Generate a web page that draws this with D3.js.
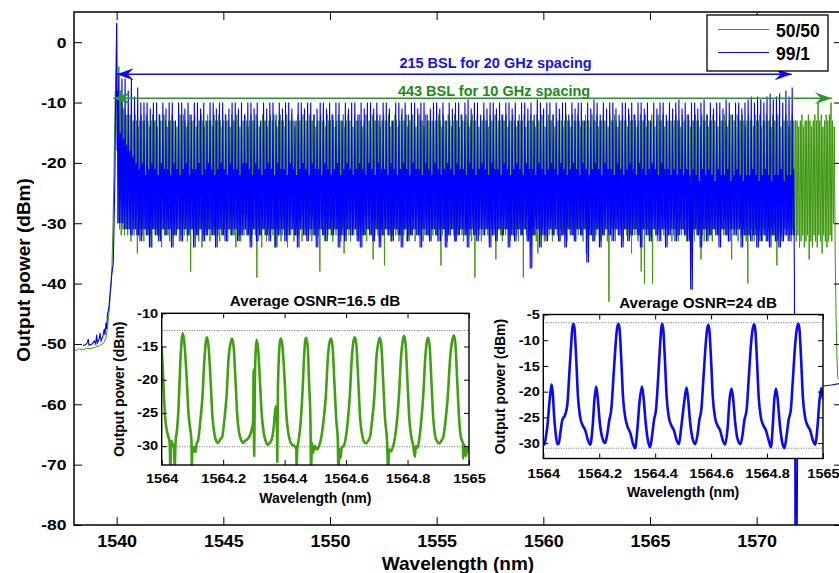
<!DOCTYPE html>
<html>
<head>
<meta charset="utf-8">
<script src="https://cdn.jsdelivr.net/npm/d3@7"></script>
<style>
  body { margin: 0; background: #fff; }
  svg { display: block; }
</style>
</head>
<body>
<div id="chart"></div>
<script>
// ---------------- data ----------------
const xTicks = [1540, 1545, 1550, 1555, 1560, 1565, 1570];
const yTicks = [0, -10, -20, -30, -40, -50, -60, -70, -80];
const seriesNames = ["50/50", "99/1"];

// 50/50 comb (443 lines, 10 GHz)
const greenStart = 1540.10, greenStep = 0.0757;
const greenHead = [[1538.0,-50.9],[1538.1,-51.1],[1538.25,-50.8],[1538.4,-51],[1538.6,-50.7],[1538.8,-50.8],[1539.0,-50.5],[1539.2,-50.3],[1539.4,-49.8],[1539.5,-49],[1539.58,-47],[1539.65,-44.5],[1539.72,-41],[1539.78,-37],[1539.83,-30],[1539.88,-20],[1539.93,-9],[1539.97,-4],[1540.0,3],[1540.03,-14],[1540.06,-25]];
const greenPeakDb = [
-4,-8,-10,-11,-12,-12,-13,-12,-13,-13,-12,-13,-14,-13,-12,-13,-13,-12,-13,-14,
-13,-12,-13,-13,-14,-12,-13,-13,-12,-13,-14,-13,-13,-12,-13,-13,-14,-13,-12,-13,
-12,-13,-14,-13,-12,-13,-13,-12,-14,-13,-13,-12,-13,-14,-13,-12,-13,-13,-14,-12,
-13,-13,-12,-13,-14,-13,-12,-13,-13,-14,-12,-13,-13,-12,-13,-14,-13,-13,-12,-13,
-14,-13,-12,-13,-13,-12,-13,-14,-13,-12,-13,-13,-14,-13,-12,-13,-12,-13,-14,-13,
-12,-13,-13,-14,-12,-13,-13,-12,-13,-14,-13,-12,-13,-13,-12,-14,-13,-13,-12,-13,
-13,-12,-14,-13,-13,-12,-13,-13,-14,-12,-13,-13,-12,-13,-14,-13,-12,-13,-13,-12,
-14,-13,-12,-13,-13,-14,-12,-13,-13,-12,-13,-14,-13,-12,-13,-13,-14,-12,-13,-13,
-12,-13,-14,-13,-12,-13,-13,-12,-14,-13,-13,-12,-13,-14,-13,-12,-13,-13,-12,-14,
-13,-13,-12,-13,-14,-13,-12,-13,-13,-14,-12,-13,-13,-12,-13,-14,-13,-13,-12,-13,
-14,-12,-13,-13,-12,-13,-14,-13,-12,-13,-13,-14,-12,-13,-13,-12,-13,-14,-13,-12,
-13,-13,-12,-14,-13,-13,-12,-13,-13,-14,-12,-13,-13,-12,-14,-13,-13,-12,-13,-13,
-12,-14,-13,-13,-12,-13,-14,-13,-12,-13,-13,-12,-14,-13,-13,-12,-13,-13,-14,-12,
-13,-13,-12,-13,-14,-13,-12,-13,-13,-12,-14,-13,-13,-12,-13,-14,-13,-12,-13,-13,
-14,-12,-13,-13,-12,-13,-14,-13,-13,-12,-13,-13,-14,-12,-13,-13,-12,-14,-13,-13,
-12,-13,-13,-14,-12,-13,-13,-12,-13,-14,-13,-13,-12,-13,-13,-14,-12,-13,-13,-12,
-13,-14,-13,-12,-13,-13,-12,-14,-13,-13,-12,-13,-14,-13,-12,-13,-13,-12,-14,-13,
-13,-12,-13,-14,-13,-12,-13,-13,-14,-12,-13,-13,-12,-13,-14,-13,-13,-12,-13,-13,
-14,-12,-13,-13,-12,-14,-13,-13,-12,-13,-13,-14,-12,-13,-13,-12,-13,-14,-13,-12,
-13,-13,-14,-12,-13,-13,-12,-13,-14,-13,-12,-13,-13,-14,-12,-13,-13,-12,-14,-13,
-13,-12,-13,-13,-14,-12,-13,-13,-12,-13,-14,-13,-13,-12,-13,-14,-13,-12,-13,-13,
-13,-14,-13,-12,-14,-13,-13,-12,-13,-14,-13,-12,-13,-10,-13,-12,-14,-13,-12,-13,
-12,-10,-13];
const greenFloorDb = [
-30,-31,-32,-31,-32,-31,-32,-31,-33,-31,-32,-31,-35,-32,-31,-32,-33,-31,-32,-31,
-32,-34,-31,-32,-31,-33,-32,-34,-31,-32,-31,-32,-33,-31,-32,-31,-32,-31,-33,-32,
-31,-32,-31,-33,-32,-38,-31,-32,-31,-32,-33,-31,-34,-32,-31,-32,-31,-33,-32,-31,
-32,-31,-32,-33,-31,-32,-31,-32,-33,-31,-32,-31,-32,-34,-31,-32,-33,-31,-32,-31,
-32,-31,-33,-32,-31,-32,-39,-31,-32,-34,-31,-32,-33,-31,-32,-31,-32,-34,-31,-32,
-31,-33,-32,-31,-32,-34,-31,-32,-31,-33,-32,-31,-32,-31,-33,-32,-31,-32,-31,-32,
-33,-31,-32,-31,-32,-38,-31,-32,-33,-31,-32,-31,-32,-33,-31,-32,-31,-32,-33,-31,
-35,-32,-31,-32,-33,-31,-32,-31,-32,-33,-31,-32,-31,-32,-33,-31,-32,-31,-36,-32,
-31,-32,-33,-31,-32,-37,-31,-32,-31,-33,-32,-31,-32,-31,-33,-32,-31,-32,-31,-33,
-32,-31,-32,-31,-33,-32,-31,-32,-31,-33,-32,-31,-32,-33,-31,-32,-31,-32,-33,-31,
-37,-32,-31,-32,-33,-31,-32,-31,-32,-33,-31,-32,-31,-32,-33,-31,-32,-31,-32,-33,
-31,-39,-32,-31,-32,-33,-31,-32,-31,-32,-33,-31,-32,-31,-36,-32,-31,-32,-33,-31,
-32,-31,-32,-33,-31,-32,-31,-32,-33,-31,-32,-39,-31,-32,-33,-31,-32,-31,-32,-33,
-35,-31,-32,-31,-33,-32,-31,-32,-31,-33,-32,-31,-32,-33,-31,-32,-31,-32,-33,-31,
-32,-31,-32,-33,-31,-32,-31,-32,-33,-31,-35,-32,-31,-32,-33,-31,-32,-31,-32,-33,
-31,-32,-31,-33,-43,-32,-31,-32,-33,-31,-32,-31,-32,-33,-31,-32,-31,-32,-35,-31,
-32,-31,-33,-32,-38,-31,-40,-32,-31,-33,-32,-40,-31,-32,-33,-31,-32,-31,-32,-33,
-31,-32,-31,-33,-32,-31,-32,-33,-31,-32,-31,-32,-33,-31,-32,-31,-32,-33,-31,-32,
-31,-36,-32,-33,-31,-32,-31,-32,-33,-31,-32,-31,-32,-33,-31,-32,-31,-32,-33,-31,
-36,-32,-31,-32,-33,-31,-32,-31,-32,-33,-40,-32,-31,-32,-33,-31,-32,-31,-32,-33,
-31,-32,-33,-31,-32,-31,-32,-33,-37,-32,-31,-32,-33,-31,-32,-31,-32,-33,-31,-32,
-33,-32,-34,-33,-32,-34,-33,-32,-36,-33,-34,-32,-33,-34,-32,-33,-35,-32,-33,-34,
-33,-32,-33];
const greenTail = [[1573.6,-30],[1573.64,-14],[1573.68,-35],[1573.72,-45],[1573.76,-52],[1573.8,-55.5],[1573.9,-56],[1574.0,-56]];

// 99/1 comb (215 lines, 20 GHz)
const blueStart = 1540.10, blueStep = 0.1475;
const blueHead = [[1538.42,-50.3],[1538.55,-50.1],[1538.62,-49.8],[1538.67,-49.2],[1538.7,-50.2],[1538.85,-50],[1538.95,-49.5],[1539.02,-50],[1539.06,-48.5],[1539.1,-49.8],[1539.18,-49.2],[1539.22,-48.2],[1539.27,-49.5],[1539.35,-48.8],[1539.42,-47.5],[1539.45,-48.5],[1539.5,-46.5],[1539.53,-47.5],[1539.57,-45],[1539.61,-44.4],[1539.65,-43.5],[1539.69,-41.6],[1539.74,-40],[1539.77,-38.5],[1539.84,-36.7],[1539.88,-30],[1539.92,-22],[1539.95,-10],[1539.98,-6],[1540.0,3.2],[1540.02,-18],[1540.04,-8],[1540.06,-24]];
const bluePeakDb = [
-5.5,-6,-6,-8,-6,-9,-7.5,-10,-10,-10,-11,-10,-10,-12,-10,-11,-10,-10,-13,-10,
-10,-11,-10,-12,-10,-10,-11,-10,-13,-10,-10,-11,-10,-10,-12,-11,-10,-10,-11,-10,
-12,-10,-10,-11,-10,-13,-10,-11,-10,-10,-12,-10,-11,-10,-10,-11,-13,-10,-10,-11,
-10,-10,-12,-11,-10,-10,-11,-10,-12,-10,-10,-13,-10,-11,-10,-10,-12,-10,-11,-10,
-10,-11,-10,-12,-10,-10,-11,-13,-10,-10,-11,-10,-12,-10,-10,-11,-10,-10,-12,-11,
-10,-10,-11,-10,-13,-10,-11,-10,-10,-12,-10,-9.5,-11,-10,-10,-12,-10,-11,-10,-10,
-11,-10,-12,-10,-10,-11,-10,-13,-10,-10,-11,-10,-12,-9.5,-10,-11,-10,-10,-12,-10,
-11,-10,-10,-12,-10,-11,-10,-10,-13,-10,-11,-9.5,-10,-12,-10,-11,-10,-10,-11,-12,
-10,-10,-11,-10,-12,-10,-10,-11,-10,-13,-10,-11,-10,-10,-12,-10,-11,-10,-9.5,-11,
-10,-12,-10,-10,-11,-10,-9.5,-12,-10,-11,-10,-10,-11,-9.5,-10,-12,-10,-10,-11,-10,
-9.5,-9,-10,-9,-9.5,-10,-9,-8.5,-9.5,-9,-8.5,-10,-8,-9,-7.5];
const blueSideDb = [
-15,-16,-17,-18,-19,-20,-21,-20,-22,-21,-20,-21,-22,-20,-21,-21,-22,-20,-21,-22,
-21,-20,-22,-21,-21,-20,-22,-21,-20,-21,-22,-21,-20,-21,-22,-20,-21,-21,-22,-20,
-20,-21,-22,-20,-21,-22,-21,-20,-21,-22,-20,-21,-21,-22,-20,-21,-22,-21,-20,-21,
-22,-20,-21,-21,-22,-20,-21,-22,-21,-20,-22,-21,-20,-21,-22,-21,-20,-21,-22,-20,
-21,-22,-20,-21,-21,-22,-20,-21,-22,-21,-20,-21,-22,-20,-21,-21,-22,-20,-21,-22,
-20,-21,-22,-21,-20,-21,-22,-20,-21,-21,-22,-20,-21,-22,-21,-20,-21,-22,-20,-21,
-21,-22,-20,-21,-22,-21,-20,-21,-22,-20,-21,-21,-22,-20,-21,-22,-21,-20,-21,-22,
-20,-21,-22,-21,-20,-21,-22,-20,-21,-22,-21,-20,-21,-22,-20,-21,-21,-22,-20,-21,
-22,-21,-20,-21,-22,-20,-21,-22,-21,-20,-21,-22,-20,-21,-21,-22,-21,-22,-21,-22,
-21,-22,-21,-22,-23,-21,-22,-21,-22,-23,-21,-22,-22,-21,-23,-22,-21,-22,-23,-22,
-22,-21,-22,-23,-22,-21,-22,-23,-22,-22,-21,-23,-22,-22,-21];
const blueFloorDb = [
-30,-30,-31,-31,-32,-31,-32,-33,-31,-32,-34,-31,-32,-33,-31,-32,-31,-34,-32,-31,
-33,-31,-32,-31,-34,-32,-31,-33,-32,-31,-32,-34,-31,-32,-33,-31,-32,-31,-33,-32,
-31,-32,-34,-31,-33,-32,-31,-32,-33,-31,-34,-32,-31,-33,-32,-31,-32,-34,-31,-32,
-33,-31,-32,-34,-31,-32,-33,-31,-32,-31,-34,-32,-33,-31,-32,-31,-33,-34,-32,-31,
-32,-33,-31,-34,-32,-31,-32,-33,-31,-32,-34,-31,-33,-32,-31,-32,-34,-31,-32,-33,
-31,-32,-33,-31,-34,-32,-31,-33,-32,-31,-32,-34,-31,-32,-33,-31,-32,-31,-34,-32,
-33,-31,-32,-31,-34,-32,-33,-31,-32,-31,-33,-37.5,-32,-31,-34,-32,-33,-31,-32,-31,
-33,-32,-34,-31,-32,-33,-31,-32,-31,-36.5,-32,-33,-31,-34,-32,-31,-32,-33,-31,-32,
-34,-31,-33,-32,-31,-32,-34,-31,-32,-33,-31,-32,-33,-31,-34,-32,-31,-33,-32,-31,
-32,-33,-41,-31,-32,-34,-31,-33,-32,-31,-32,-34,-31,-32,-33,-31,-32,-31,-34,-32,
-32,-33,-32,-34,-33,-32,-33,-34,-32,-33,-34,-33,-32,-33,-32];
const blueTail = [[1571.77,-40],[1571.79,-84],[1571.81,-84],[1571.84,-60],[1571.88,-84],[1571.90,-84],[1571.93,-58],[1572.1,-57],[1572.5,-57.2],[1573.0,-57],[1573.5,-56.8],[1574.0,-56.5]];

// inset (a): 50/50, 1564-1565 nm
const insetGreen = [
[1564.000,-15],[1564.006,-21],[1564.011,-25.5],[1564.016,-27.5],[1564.021,-28.5],[1564.026,-29.5],[1564.028,-33.5],[1564.031,-29.2],[1564.036,-29.8],[1564.040,-30.2],[1564.042,-33.5],[1564.045,-29.5],[1564.050,-27.5],[1564.055,-24],[1564.061,-17],[1564.066,-13.6],[1564.069,-13.0],[1564.074,-14.6],[1564.081,-19.5],[1564.087,-25],[1564.093,-27.5],[1564.097,-29.3],[1564.098,-33.5],[1564.100,-30.0],[1564.104,-30.8],[1564.107,-30.2],[1564.110,-30.9],[1564.113,-29.8],
[1564.119,-29.0],[1564.125,-26.5],[1564.132,-23],[1564.139,-17],[1564.144,-14.2],[1564.147,-13.6],[1564.152,-14.8],[1564.159,-20],[1564.165,-25.5],[1564.171,-28],[1564.177,-29.2],[1564.184,-29.5],[1564.190,-29.0],
[1564.197,-28.6],[1564.204,-26],[1564.211,-22.5],[1564.218,-16.5],[1564.225,-14.3],[1564.229,-13.8],[1564.234,-15],[1564.240,-20],[1564.246,-25.5],[1564.252,-28],[1564.258,-29],[1564.265,-29.5],[1564.271,-29.2],
[1564.278,-29],[1564.286,-28.5],[1564.293,-27.5],[1564.298,-26],[1564.299,-18.5],[1564.301,-31.5],[1564.303,-21],[1564.306,-15.5],[1564.309,-14.0],[1564.314,-15.5],[1564.320,-20.5],[1564.326,-25.5],[1564.332,-28],[1564.338,-29.2],[1564.345,-29.8],[1564.352,-29.5],
[1564.358,-29],[1564.365,-27],[1564.371,-24],[1564.375,-26],[1564.376,-32.4],[1564.378,-22],[1564.382,-16],[1564.385,-14.2],[1564.388,-13.8],[1564.393,-15],[1564.400,-20],[1564.406,-25.5],[1564.412,-28],[1564.418,-29.3],[1564.425,-29.8],[1564.432,-30],[1564.438,-30.5],[1564.439,-33.5],[1564.441,-30.5],
[1564.446,-29],[1564.452,-26.5],[1564.458,-22],[1564.464,-16],[1564.467,-14.2],[1564.470,-13.7],[1564.475,-15],[1564.480,-21],[1564.484,-26],[1564.486,-33.5],[1564.489,-29.5],[1564.493,-31],[1564.498,-30],[1564.505,-30.5],[1564.512,-30],
[1564.520,-28.5],[1564.527,-26],[1564.534,-22.5],[1564.541,-16.5],[1564.547,-14.2],[1564.551,-13.8],[1564.556,-15],[1564.562,-20.5],[1564.568,-26],[1564.573,-29],[1564.575,-33.5],[1564.578,-30.5],[1564.582,-31.8],[1564.586,-30.2],[1564.592,-30],
[1564.598,-29],[1564.605,-26.5],[1564.612,-22.5],[1564.619,-16.5],[1564.625,-14],[1564.629,-13.6],[1564.634,-15],[1564.640,-20.5],[1564.646,-26],[1564.652,-28.2],[1564.658,-29.3],[1564.665,-29.6],[1564.672,-29.2],
[1564.678,-28.6],[1564.685,-26],[1564.692,-22.5],[1564.699,-16.5],[1564.706,-14.2],[1564.710,-13.7],[1564.715,-15],[1564.721,-20.5],[1564.727,-26],[1564.733,-29],[1564.737,-33.5],[1564.740,-30.5],[1564.746,-30.8],[1564.752,-30.2],
[1564.758,-29],[1564.765,-26.5],[1564.772,-22.5],[1564.779,-16.5],[1564.785,-14],[1564.789,-13.4],[1564.794,-14.8],[1564.800,-20.5],[1564.806,-26],[1564.812,-28.5],[1564.818,-29.8],[1564.824,-31.6],[1564.827,-30],[1564.832,-30.3],
[1564.838,-29],[1564.844,-26.5],[1564.851,-22.5],[1564.858,-16.5],[1564.863,-14.2],[1564.867,-13.7],[1564.872,-15],[1564.878,-20.5],[1564.884,-26],[1564.890,-28.5],[1564.896,-29.3],[1564.903,-29.6],[1564.910,-29.2],
[1564.917,-28.5],[1564.924,-26],[1564.931,-22.5],[1564.939,-16.5],[1564.946,-14],[1564.951,-13.3],[1564.956,-14.8],[1564.962,-20.5],[1564.968,-26],[1564.974,-28.8],[1564.980,-29.5],[1564.981,-31.9],[1564.985,-29.8],[1564.990,-31.5],[1564.995,-30.2],[1565.000,-30.8]];
const insetGreenLevels = [-12.6, -30.1];

// inset (b): 99/1, 1564-1565 nm
const insetBlue = [
[1564.000,-29.8],[1564.004,-30.3],[1564.010,-28.5],[1564.016,-26],[1564.022,-22],[1564.027,-19.5],[1564.030,-18.6],[1564.034,-20.5],[1564.039,-25],[1564.044,-28],[1564.050,-30.2],[1564.055,-30.2],[1564.061,-28],[1564.068,-25.5],[1564.078,-24.5],[1564.086,-22.5],[1564.093,-16.5],[1564.100,-10.5],[1564.104,-7.6],[1564.108,-6.8],
[1564.112,-8],[1564.118,-14],[1564.124,-21],[1564.132,-25],[1564.140,-26.5],[1564.150,-27.5],[1564.160,-29.5],[1564.168,-30.3],[1564.176,-27],[1564.183,-21.5],[1564.189,-19],[1564.195,-21.5],[1564.202,-26],[1564.211,-29],[1564.221,-30],[1564.228,-28.5],[1564.236,-25.5],[1564.243,-23.5],[1564.251,-17],[1564.259,-10.5],[1564.264,-7.6],[1564.269,-6.8],
[1564.273,-8],[1564.279,-14],[1564.285,-21],[1564.293,-25],[1564.301,-26.8],[1564.311,-28],[1564.321,-30.2],[1564.328,-31],[1564.336,-27.5],[1564.344,-22],[1564.353,-19],[1564.359,-21.5],[1564.366,-26],[1564.374,-29.5],[1564.382,-30.8],[1564.389,-28.5],[1564.396,-25.5],[1564.403,-23.5],[1564.411,-17],[1564.418,-10.5],[1564.422,-7.6],[1564.425,-6.8],
[1564.429,-8],[1564.435,-14],[1564.441,-21],[1564.449,-25],[1564.457,-26.5],[1564.467,-27.5],[1564.477,-29.5],[1564.485,-30.2],[1564.493,-27],[1564.505,-21.5],[1564.512,-19.2],[1564.518,-21.5],[1564.525,-26],[1564.534,-29.2],[1564.543,-30.2],[1564.551,-28.5],[1564.558,-25.5],[1564.565,-23.5],[1564.573,-17],[1564.581,-10.5],[1564.586,-7.8],[1564.590,-7.0],
[1564.594,-8.2],[1564.600,-14],[1564.606,-21],[1564.614,-25],[1564.622,-26.5],[1564.632,-27.5],[1564.642,-29.5],[1564.650,-30.3],[1564.659,-27],[1564.666,-21.5],[1564.673,-19.4],[1564.679,-21.5],[1564.686,-26],[1564.695,-29.3],[1564.705,-30.2],[1564.712,-28.5],[1564.719,-25.5],[1564.727,-23.5],[1564.735,-17],[1564.743,-10.5],[1564.749,-7.7],[1564.754,-6.9],
[1564.758,-8],[1564.764,-14],[1564.770,-21],[1564.778,-25],[1564.786,-26.5],[1564.796,-27.5],[1564.806,-29.5],[1564.814,-30.8],[1564.820,-27],[1564.826,-21.5],[1564.832,-19.4],[1564.838,-21.5],[1564.845,-26],[1564.853,-29.5],[1564.862,-31],[1564.870,-28.5],[1564.877,-25.5],[1564.885,-23.5],[1564.893,-17],[1564.901,-10.5],[1564.907,-7.6],[1564.912,-6.8],
[1564.916,-8],[1564.922,-14],[1564.928,-21],[1564.936,-25],[1564.944,-26.5],[1564.954,-27.5],[1564.964,-29.5],[1564.972,-30.3],[1564.980,-27],[1564.987,-22],[1564.994,-19.3],[1565.000,-21.5]];
const insetBlueLevels = [-6.6, -31.0];
const insetXTicks = [1564, 1564.2, 1564.4, 1564.6, 1564.8, 1565];

// ---------------- layout ----------------
const GREEN = "#3c960c", BLUE = "#0000ff";
const W = 839, H = 573;
const svg = d3.select("#chart").append("svg")
  .attr("width", W).attr("height", H)
  .style("font-family", "'Liberation Sans', Arial, Helvetica, sans-serif")
  .style("font-weight", "bold");

const x = d3.scaleLinear().domain([1538, 1574]).range([74, 842]);
const y = d3.scaleLinear().domain([-80, 5]).range([525, 12]);

svg.append("clipPath").attr("id", "plotClip")
  .append("rect").attr("x", 74).attr("y", 12).attr("width", 768).attr("height", 513);

// build spectra from the comb tables
let greenPts = greenHead.slice();
greenPeakDb.forEach((p, i) => {
  const wl = greenStart + i * greenStep;
  greenPts.push([wl - greenStep / 2, greenFloorDb[i]], [wl, p]);
});
greenPts = greenPts.concat(greenTail);

let bluePts = blueHead.slice();
bluePeakDb.forEach((p, j) => {
  const wl = blueStart + j * blueStep;
  bluePts.push([wl - blueStep / 4, blueFloorDb[j]], [wl, p],
               [wl + blueStep / 4, blueFloorDb[j]], [wl + blueStep / 2, blueSideDb[j]]);
});
bluePts = bluePts.concat(blueTail);

const line = d3.line().x(d => x(d[0])).y(d => y(d[1]));
const plot = svg.append("g").attr("clip-path", "url(#plotClip)");
plot.append("path").datum(greenPts).attr("d", line)
  .attr("fill", "none").attr("stroke", GREEN).attr("stroke-width", 1);
plot.append("path").datum(bluePts).attr("d", line)
  .attr("fill", "none").attr("stroke", BLUE).attr("stroke-width", 1.1);

// axes
function styleAxis(g, size, sx, pad) {
  g.attr("font-family", null).attr("font-size", null);
  g.select(".domain").remove();
  g.selectAll(".tick line").attr("stroke", "#000").attr("stroke-width", 1);
  const t = g.selectAll(".tick text").attr("fill", "#000")
    .style("font-size", size + "px").attr("transform", `scale(${sx},1)`);
  if (pad !== undefined) t.attr("x", -pad / sx);
}
svg.append("g").attr("transform", "translate(0,525)")
  .call(d3.axisBottom(x).tickValues(xTicks).tickSizeInner(-8).tickSizeOuter(0)
    .tickPadding(10.5).tickFormat(d => String(d)))
  .call(g => styleAxis(g, 16, 1.12));
svg.append("g").attr("transform", "translate(74,0)")
  .call(d3.axisLeft(y).tickValues(yTicks).tickSizeInner(-8).tickSizeOuter(0)
    .tickFormat(d => String(d)))
  .call(g => styleAxis(g, 15.5, 1.13, 7.5));
svg.append("g").attr("transform", "translate(0,12)")
  .call(d3.axisTop(x).tickValues(xTicks).tickSizeInner(-8).tickSizeOuter(0).tickFormat(""))
  .call(g => styleAxis(g, 10, 1));
svg.append("g").attr("transform", "translate(842,0)")
  .call(d3.axisRight(y).tickValues(yTicks).tickSizeInner(-8).tickSizeOuter(0).tickFormat(""))
  .call(g => styleAxis(g, 10, 1));
svg.append("rect").attr("x", 74).attr("y", 12).attr("width", 768).attr("height", 513)
  .attr("fill", "none").attr("stroke", "#000").attr("stroke-width", 1.5);

svg.append("text").attr("transform", "translate(30,270) rotate(-90)")
  .attr("text-anchor", "middle").style("font-size", "19px").text("Output power (dBm)");
svg.append("text").attr("x", 458).attr("y", 570)
  .attr("text-anchor", "middle").style("font-size", "19px").text("Wavelength (nm)");

// double arrows with labels
const arrows = [
  {from: 1540.0, to: 1571.64, db: -5.3, color: "#0a0af5", textColor: "#1414e6",
   label: "215 BSL for 20 GHz spacing", textNm: 1557.76, textDb: -4.32},
  {from: 1539.84, to: 1573.52, db: -9.3, color: "#2e962e", textColor: "#1a8a1a",
   label: "443 BSL for 10 GHz spacing", textNm: 1557.69, textDb: -8.96}
];
function head(tx, ty, dir, color) {
  const L = 17, hw = 6, notch = 6;
  const p = d3.path();
  p.moveTo(tx, ty);
  p.lineTo(tx + dir * L, ty - hw);
  p.lineTo(tx + dir * (L - notch), ty);
  p.lineTo(tx + dir * L, ty + hw);
  p.closePath();
  svg.append("path").attr("d", p.toString()).attr("fill", color);
}
arrows.forEach(a => {
  const yy = y(a.db);
  svg.append("line").attr("x1", x(a.from)).attr("x2", x(a.to)).attr("y1", yy).attr("y2", yy)
    .attr("stroke", a.color).attr("stroke-width", 1.5);
  head(x(a.from), yy, 1, a.color);
  head(x(a.to), yy, -1, a.color);
  svg.append("text").attr("x", x(a.textNm)).attr("y", y(a.textDb))
    .attr("text-anchor", "middle").attr("fill", a.textColor)
    .style("font-size", "14.5px").text(a.label);
});

// legend
const lg = svg.append("g");
lg.append("rect").attr("x", 707).attr("y", 15).attr("width", 121).attr("height", 56)
  .attr("fill", "#fff").attr("stroke", "#000").attr("stroke-width", 1.3);
[GREEN, BLUE].forEach((c, k) => {
  const yy = 29.5 + k * 23;
  lg.append("line").attr("x1", 718).attr("x2", 769).attr("y1", yy).attr("y2", yy)
    .attr("stroke", c).attr("stroke-width", 1.2);
  lg.append("text").attr("x", 776).attr("y", yy + 7).style("font-size", "17.5px")
    .text(seriesNames[k]);
});

// insets
function drawInset(cfg) {
  const ix = d3.scaleLinear().domain([1564, 1565]).range([cfg.left, cfg.right]);
  const iy = d3.scaleLinear().domain(cfg.yDomain).range([cfg.bottom, cfg.top]);
  const w = cfg.right - cfg.left, h = cfg.bottom - cfg.top;
  const g = svg.append("g");
  g.append("rect").attr("x", cfg.left).attr("y", cfg.top).attr("width", w).attr("height", h)
    .attr("fill", "#fff");
  g.append("clipPath").attr("id", cfg.id)
    .append("rect").attr("x", cfg.left).attr("y", cfg.top).attr("width", w).attr("height", h);
  cfg.levels.forEach(v => {
    g.append("line").attr("x1", cfg.left).attr("x2", cfg.right)
      .attr("y1", iy(v)).attr("y2", iy(v))
      .attr("stroke", "#666").attr("stroke-width", 1).attr("stroke-dasharray", "1,1.5");
  });
  g.append("path").datum(cfg.data).attr("clip-path", `url(#${cfg.id})`)
    .attr("d", d3.line().x(d => ix(d[0])).y(d => iy(d[1])).curve(d3.curveMonotoneX))
    .attr("fill", "none").attr("stroke", cfg.color).attr("stroke-width", 2.6)
    .attr("stroke-linejoin", "round");
  g.append("g").attr("transform", `translate(0,${cfg.bottom})`)
    .call(d3.axisBottom(ix).tickValues(insetXTicks).tickSizeInner(-5).tickSizeOuter(0)
      .tickPadding(cfg.xPad).tickFormat(d => String(+d.toFixed(1))))
    .call(a => styleAxis(a, cfg.font, cfg.sx));
  g.append("g").attr("transform", `translate(${cfg.left},0)`)
    .call(d3.axisLeft(iy).tickValues(cfg.yTicks).tickSizeInner(-5).tickSizeOuter(0)
      .tickFormat(d => String(d)))
    .call(a => styleAxis(a, cfg.font, cfg.sx, 3.5));
  g.append("g").attr("transform", `translate(0,${cfg.top})`)
    .call(d3.axisTop(ix).tickValues(insetXTicks).tickSizeInner(-5).tickSizeOuter(0).tickFormat(""))
    .call(a => styleAxis(a, 10, 1));
  g.append("g").attr("transform", `translate(${cfg.right},0)`)
    .call(d3.axisRight(iy).tickValues(cfg.yTicks).tickSizeInner(-5).tickSizeOuter(0).tickFormat(""))
    .call(a => styleAxis(a, 10, 1));
  g.append("rect").attr("x", cfg.left).attr("y", cfg.top).attr("width", w).attr("height", h)
    .attr("fill", "none").attr("stroke", "#000").attr("stroke-width", 1.4);
  g.append("text").attr("x", cfg.titleX).attr("y", cfg.top - 7)
    .attr("text-anchor", "middle").style("font-size", "15.2px").text(cfg.title);
  g.append("text").attr("x", (cfg.left + cfg.right) / 2).attr("y", cfg.bottom + cfg.xLabelDy)
    .attr("text-anchor", "middle").style("font-size", "14px").text("Wavelength (nm)");
  g.append("text").attr("transform", `translate(${cfg.yLabelX},${(cfg.top + cfg.bottom) / 2}) rotate(-90)`)
    .attr("text-anchor", "middle").style("font-size", "14px").text("Output power (dBm)");
}

drawInset({
  id: "clipA", data: insetGreen, color: "#3fa010", levels: insetGreenLevels,
  left: 161.7, right: 469, top: 313.3, bottom: 465, yDomain: [-32.85, -10],
  yTicks: [-10, -15, -20, -25, -30], font: 12, sx: 1.22, xPad: 9.5,
  title: "Average OSNR=16.5 dB", titleX: 315, xLabelDy: 38, yLabelX: 124
});
drawInset({
  id: "clipB", data: insetBlue, color: "#0a0af5", levels: insetBlueLevels,
  left: 543.3, right: 823, top: 314.5, bottom: 458.5, yDomain: [-33, -5],
  yTicks: [-5, -10, -15, -20, -25, -30], font: 13, sx: 1.12, xPad: 10.5,
  title: "Average OSNR=24 dB", titleX: 698, xLabelDy: 38, yLabelX: 505
});
</script>
</body>
</html>
